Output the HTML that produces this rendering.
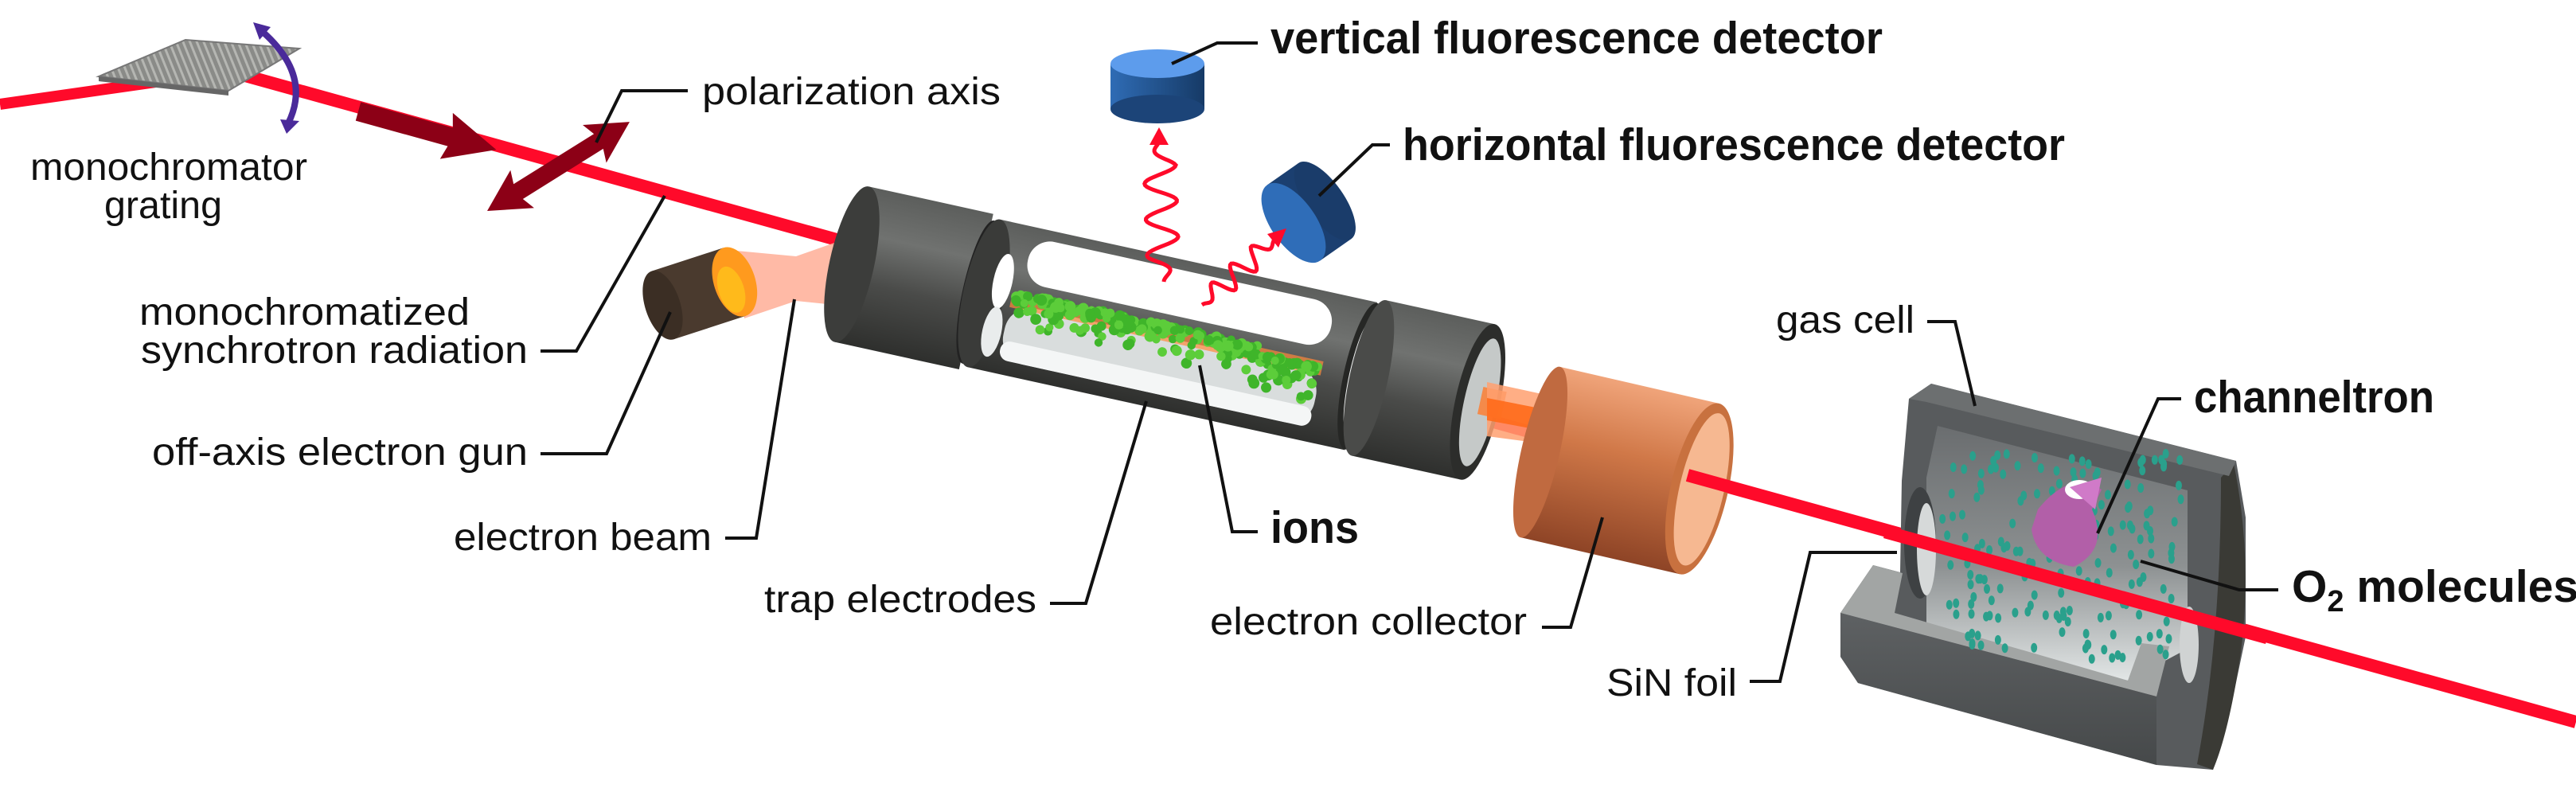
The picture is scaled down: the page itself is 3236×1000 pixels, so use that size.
<!DOCTYPE html>
<html><head><meta charset="utf-8"><style>
html,body{margin:0;padding:0;background:#fff;}
svg{display:block;}
text{font-family:"Liberation Sans Narrow","Liberation Sans",sans-serif;fill:#111;}
.b{font-weight:bold;}
.ld{fill:none;stroke:#111;stroke-width:4;}
</style></head><body>
<svg id="s" width="3236" height="1000" viewBox="0 0 3236 1000" xmlns="http://www.w3.org/2000/svg">
<defs>
<linearGradient id="gcyl" x1="0" y1="0" x2="0" y2="1">
<stop offset="0" stop-color="#5c5e5c"/><stop offset=".3" stop-color="#707270"/><stop offset=".6" stop-color="#4a4b49"/><stop offset="1" stop-color="#2e2f2d"/></linearGradient>
<linearGradient id="gcu" x1="0" y1="0" x2="0" y2="1">
<stop offset="0" stop-color="#f0a47a"/><stop offset=".4" stop-color="#d07848"/><stop offset="1" stop-color="#8e4426"/></linearGradient>
<linearGradient id="gbl" x1="0" y1="0" x2="1" y2="0">
<stop offset="0" stop-color="#2f6cb5"/><stop offset="1" stop-color="#163a66"/></linearGradient>
<linearGradient id="gin" x1="0" y1="0" x2="0" y2="1">
<stop offset="0" stop-color="#6a6d6f"/><stop offset=".55" stop-color="#8d9192"/><stop offset="1" stop-color="#e2e6e6"/></linearGradient>
<linearGradient id="gfr" x1="0" y1="0" x2="0" y2="1">
<stop offset="0" stop-color="#5e6163"/><stop offset="1" stop-color="#46494a"/></linearGradient>
<pattern id="gr" width="8" height="8" patternUnits="userSpaceOnUse" patternTransform="rotate(-22)">
<rect width="8" height="8" fill="#8a8b88"/><rect width="3" height="8" fill="#b5b6b2"/></pattern>
</defs>

<polyline points="0,131 210,101" stroke="#ff0a2a" stroke-width="14" fill="none"/>
<line x1="290" y1="90" x2="3236" y2="907" stroke="#ff0a2a" stroke-width="16"/>

<polygon points="124,96 233,50 376,61 287,114" fill="url(#gr)" stroke="#777" stroke-width="2"/>
<polygon points="124,96 287,114 287,120 124,102" fill="#666"/>
<path d="M330,40 Q392,95 362,155" stroke="#4a2a9a" stroke-width="8" fill="none"/>
<polygon points="318,28 340,34 326,50" fill="#4a2a9a"/>
<polygon points="352,150 376,152 360,168" fill="#4a2a9a"/>

<g transform="translate(450,140) rotate(15.5)">
<polygon points="0,-12 120,-12 115,-30 180,0 115,30 120,12 0,12" fill="#8c0016"/></g>
<g transform="translate(612,265) rotate(-32)">
<polygon points="0,0 52,-28 46,-11 165,-11 159,-28 211,0 159,28 165,11 46,11 52,28" fill="#8c0016"/></g>

<polygon points="925,315 1000,322 1068,298 1068,385 1000,378 935,400" fill="#ffb39c" opacity=".9"/>
<g transform="translate(880,368) rotate(-18)">
<rect x="-50" y="-45" width="95" height="90" fill="#4a3a2e"/>
<ellipse cx="-50" cy="0" rx="22" ry="45" fill="#3b2e24"/>
<ellipse cx="45" cy="0" rx="26" ry="45" fill="#ff9a1e"/>
<ellipse cx="38" cy="8" rx="16" ry="30" fill="#ffc21a" opacity=".8"/>
</g>

<g transform="translate(1070,332) rotate(12.4)">
<rect x="0" y="-100" width="160" height="200" fill="url(#gcyl)"/>
<ellipse cx="0" cy="0" rx="28" ry="100" fill="#3c3d3b"/>
<ellipse cx="163" cy="0" rx="20" ry="92" fill="#222"/>
<rect x="170" y="-95" width="485" height="190" fill="url(#gcyl)"/>
<ellipse cx="170" cy="0" rx="26" ry="95" fill="#3a3b39"/>
<ellipse cx="190" cy="-20" rx="12" ry="35" fill="#fff"/>
<ellipse cx="190" cy="45" rx="12" ry="32" fill="#e9ecec"/>
<rect x="215" y="-82" width="390" height="58" rx="28" fill="#fff"/>
<rect x="205" y="5" width="400" height="72" rx="32" fill="#d9dddd"/>
<rect x="205" y="52" width="400" height="25" rx="12" fill="#f4f6f6"/>
<rect x="205" y="-8" width="400" height="18" fill="#ff8a3a" opacity=".7"/>
<g id="ions"></g>
<ellipse cx="655" cy="0" rx="22" ry="94" fill="#262725"/>
<ellipse cx="652" cy="0" rx="12" ry="70" fill="#eef0f0"/>
<rect x="665" y="-100" width="140" height="200" fill="url(#gcyl)"/>
<ellipse cx="665" cy="0" rx="24" ry="100" fill="#4a4b49"/>
<ellipse cx="805" cy="0" rx="28" ry="100" fill="#2c2d2b"/>
<ellipse cx="808" cy="0" rx="20" ry="82" fill="#c5c9c8"/>
<rect x="808" y="-20" width="30" height="35" fill="#ff7a2a" opacity=".8"/>
</g>
<polygon points="1868,480 1960,500 1960,560 1868,548" fill="#ffa070" opacity=".85"/>
<polygon points="1868,500 1960,518 1960,545 1868,528" fill="#ff6a1a" opacity=".9"/>

<g transform="translate(1935,568) rotate(13)">
<rect x="0" y="-110" width="205" height="220" fill="url(#gcu)"/>
<ellipse cx="0" cy="0" rx="24" ry="110" fill="#c06a40"/>
<ellipse cx="205" cy="0" rx="36" ry="110" fill="#c8713f"/>
<ellipse cx="208" cy="0" rx="28" ry="98" fill="#f6b891"/>
</g>
<line x1="2120" y1="597" x2="2420" y2="680" stroke="#ff0a2a" stroke-width="16"/>

<rect x="1395" y="80" width="118" height="57" fill="url(#gbl)"/>
<ellipse cx="1454" cy="137" rx="59" ry="18" fill="#1c4478"/>
<ellipse cx="1454" cy="80" rx="59" ry="18" fill="#5d9cec"/>
<g transform="translate(1625,280) rotate(-35)">
<rect x="0" y="-58" width="48" height="116" fill="#1b3f70"/>
<ellipse cx="48" cy="0" rx="24" ry="58" fill="#1a3c6a"/>
<ellipse cx="0" cy="0" rx="28" ry="58" fill="#2f6db8"/>
</g>
<path id="w1" fill="none" stroke="#ff0a2a" stroke-width="5"/>
<path id="w2" fill="none" stroke="#ff0a2a" stroke-width="5"/>
<polygon points="1456,160 1444,182 1468,182" fill="#ff0a2a"/>
<polygon points="1616,287 1592,294 1606,311" fill="#ff0a2a"/>

<polygon points="2398,501 2426,482 2809,579 2821,650 2821,800 2800,900 2780,967 2709,961 2334,858 2312,825 2312,770 2353,710 2387,719 2389,604" fill="#585b5d"/>
<path d="M2806,582 Q2830,700 2815,820 Q2800,920 2780,967 L2760,960 Q2790,800 2790,600 Z" fill="#3a3a35"/>
<polygon points="2398,501 2426,482 2809,579 2800,598 2420,505" fill="#6c6f70"/>
<polygon points="2434,535 2748,616 2748,815 2673,855 2420,790 2420,600" fill="url(#gin)"/>
<ellipse cx="2412" cy="682" rx="20" ry="70" fill="#3e4143"/>
<ellipse cx="2420" cy="690" rx="12" ry="58" fill="#d6d9d9"/>
<ellipse cx="2750" cy="810" rx="12" ry="48" fill="#d0d3d3"/>
<polygon points="2312,770 2353,710 2390,720 2380,770 2673,855 2690,808 2725,812 2709,875" fill="#a2a5a4"/>
<polygon points="2312,770 2709,875 2709,961 2334,858 2312,825" fill="url(#gfr)"/>
<g id="mol"></g>
<path d="M2560,640 Q2600,590 2640,615 L2628,640 Q2650,690 2605,712 Q2558,705 2552,665 Z" fill="#b25fa8"/>
<ellipse cx="2612" cy="615" rx="18" ry="12" fill="#fff"/>
<path d="M2600,612 L2640,600 L2632,640 Z" fill="#d07ac8"/>
<polygon points="2370,660 2850,793 2846,809 2366,676" fill="#ff0a2a"/>

<polyline class="ld" points="864,114 781,114 749,179"/>
<polyline class="ld" points="679,441 724,441 835,246"/>
<polyline class="ld" points="679,570 762,570 842,392"/>
<polyline class="ld" points="911,676 950,676 998,376"/>
<polyline class="ld" points="1319,758 1364,758 1440,504"/>
<polyline class="ld" points="1580,668 1548,668 1507,459"/>
<polyline class="ld" points="1937,788 1973,788 2013,650"/>
<polyline class="ld" points="1580,54 1529,54 1472,80"/>
<polyline class="ld" points="1746,182 1724,182 1657,246"/>
<polyline class="ld" points="2421,404 2456,404 2481,510"/>
<polyline class="ld" points="2740,501 2711,501 2635,670"/>
<polyline class="ld" points="2862,741 2813,741 2689,705"/>
<polyline class="ld" points="2198,856 2236,856 2274,694 2383,694"/>

<g font-size="48">
<text x="38" y="226" textLength="348" lengthAdjust="spacingAndGlyphs">monochromator</text>
<text x="131" y="274" textLength="148" lengthAdjust="spacingAndGlyphs">grating</text>
<text x="882" y="131" textLength="375" lengthAdjust="spacingAndGlyphs">polarization axis</text>
<text x="175" y="408" textLength="415" lengthAdjust="spacingAndGlyphs">monochromatized</text>
<text x="177" y="456" textLength="486" lengthAdjust="spacingAndGlyphs">synchrotron radiation</text>
<text x="191" y="584" textLength="472" lengthAdjust="spacingAndGlyphs">off-axis electron gun</text>
<text x="570" y="691" textLength="324" lengthAdjust="spacingAndGlyphs">electron beam</text>
<text x="960" y="769" textLength="342" lengthAdjust="spacingAndGlyphs">trap electrodes</text>
<text x="1520" y="797" textLength="398" lengthAdjust="spacingAndGlyphs">electron collector</text>
<text x="2231" y="418" textLength="174" lengthAdjust="spacingAndGlyphs">gas cell</text>
<text x="2018" y="874" textLength="164" lengthAdjust="spacingAndGlyphs">SiN foil</text>
</g>
<g font-size="57" class="b">
<text class="b" x="1596" y="67" textLength="769" lengthAdjust="spacingAndGlyphs">vertical fluorescence detector</text>
<text class="b" x="1762" y="201" textLength="832" lengthAdjust="spacingAndGlyphs">horizontal fluorescence detector</text>
<text class="b" x="1596" y="682" textLength="111" lengthAdjust="spacingAndGlyphs">ions</text>
<text class="b" x="2756" y="518" textLength="302" lengthAdjust="spacingAndGlyphs">channeltron</text>
<text class="b" x="2879" y="756">O<tspan font-size="38" dy="12">2</tspan><tspan dy="-12"> molecules</tspan></text>
</g>
</svg>
<script>
(function(){
var NS="http://www.w3.org/2000/svg";
var seed=7;function r(){seed=(seed*9301+49297)%233280;return seed/233280;}
var g=document.getElementById("ions");
for(var i=0;i<260;i++){var x=210+r()*390,y=-10+r()*r()*55+ (x>520?10:0);
var c=document.createElementNS(NS,"circle");c.setAttribute("cx",x);c.setAttribute("cy",y);c.setAttribute("r",5+r()*2);
c.setAttribute("fill",r()<.5?"#3fb52a":"#5ccd3a");g.appendChild(c);}
var m=document.getElementById("mol");
for(var i=0;i<170;i++){var x=2440+r()*300,y=570+r()*260;
var e=document.createElementNS(NS,"ellipse");e.setAttribute("cx",x);e.setAttribute("cy",y);e.setAttribute("rx",4);e.setAttribute("ry",6);
e.setAttribute("fill","#2aa08c");m.appendChild(e);}
function wave(id,x0,y0,x1,y1,amp,per){var dx=x1-x0,dy=y1-y0,L=Math.sqrt(dx*dx+dy*dy),ux=dx/L,uy=dy/L,nx=-uy,ny=ux,d="";
for(var t=0;t<=L;t+=2){var a=amp*Math.sin(t/per*2*Math.PI)*Math.min(1,t/30,(L-t)/30);
var px=x0+ux*t+nx*a,py=y0+uy*t+ny*a;d+=(t?"L":"M")+px.toFixed(1)+","+py.toFixed(1);}
document.getElementById(id).setAttribute("d",d);}
wave("w1",1462,354,1456,178,20,45);
wave("w2",1510,383,1602,300,14,35);
})();
</script>
</body></html>
